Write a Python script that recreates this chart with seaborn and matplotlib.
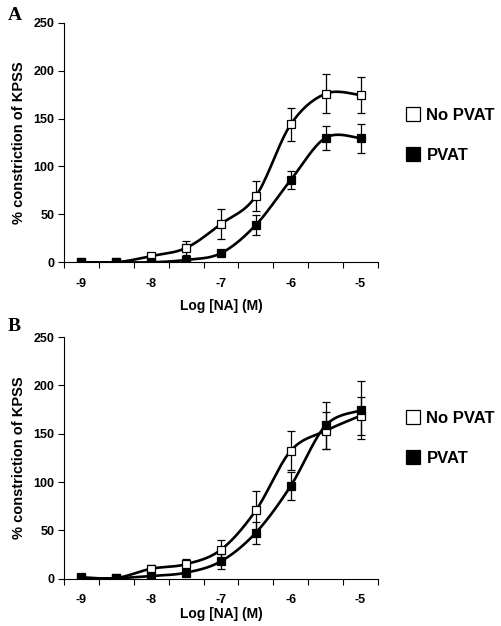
import numpy as np
import pandas as pd
import matplotlib
matplotlib.use("Agg")
import matplotlib.pyplot as plt
import seaborn as sns

# log concentrations of noradrenaline
log_na = [-9, -8.5, -8, -7.5, -7, -6.5, -6, -5.5, -5]

# panel A
a_no_pvat = [0, 0, 6.5, 15, 40, 69, 144, 176, 174.5]
a_no_pvat_err = [0, 0, 2, 7, 15.5, 15.5, 17.5, 20, 18.5]
a_pvat = [0, 0, 0, 2.5, 9.5, 39, 86, 130, 129.5]
a_pvat_err = [0, 0, 0, 3, 2, 10, 9.5, 12.5, 15]

# panel B
b_no_pvat = [1.4, 0.7, 10.3, 15, 30, 70.7, 132.4, 153, 168.6]
b_no_pvat_err = [0, 0, 4, 5, 9.5, 20, 20, 19, 19.5]
b_pvat = [0.5, 0.5, 2.8, 6.2, 18, 47.6, 96, 158.6, 174]
b_pvat_err = [0, 0, 0, 2, 7.5, 11.5, 14.5, 24, 30]

x_labels = ["-9", "-8", "-7", "-6", "-5"]


def smooth(x, y, n=30):
    """bezier smoothing like the excel 'smoothed line' option"""
    p = np.column_stack([x, y]).astype(float)
    pts = [p[0]]
    for i in range(len(p) - 1):
        p0 = p[i - 1] if i > 0 else p[i]
        p3 = p[i + 2] if i + 2 < len(p) else p[i + 1]
        c1 = p[i] + (p[i + 1] - p0) / 6
        c2 = p[i + 1] - (p3 - p[i]) / 6
        t = np.linspace(0, 1, n)[1:, None]
        seg = ((1 - t) ** 3) * p[i] + 3 * ((1 - t) ** 2) * t * c1 + 3 * (1 - t) * t ** 2 * c2 + t ** 3 * p[i + 1]
        pts.extend(seg)
    pts = np.array(pts)
    return pts[:, 0], pts[:, 1]


def draw_panel(ax, no_pvat, no_err, pvat, pvat_err, letter, leg_y, xpad, letter_y):
    for vals in [pvat, no_pvat]:
        sx, sy = smooth(log_na, vals)
        curve = pd.DataFrame({"x": sx, "y": sy})
        sns.lineplot(data=curve, x="x", y="y", ax=ax, color="black", lw=1.9, sort=False, zorder=2)
    for vals, errs in [(pvat, pvat_err), (no_pvat, no_err)]:
        ax.errorbar(log_na, vals, yerr=errs, fmt="none", ecolor="black", elinewidth=0.9,
                    capsize=3, capthick=0.9, zorder=3)
    # markers (legend order: No PVAT first)
    ax.plot(log_na, no_pvat, ls="none", marker="s", ms=6, mfc="white", mec="black", mew=0.9,
            zorder=4, label="No PVAT")
    ax.plot(log_na, pvat, ls="none", marker="s", ms=6, mfc="black", mec="black", mew=0.9,
            zorder=4, label="PVAT")

    ax.set_xlim(-9.25, -4.75)
    ax.set_ylim(0, 250)
    ax.set_yticks(np.arange(0, 251, 50))
    ax.set_xticks([-9, -8, -7, -6, -5])
    ax.set_xticklabels(x_labels)
    ax.set_xticks(np.arange(-9.25, -4.74, 0.5), minor=True)
    ax.tick_params(axis="x", which="major", length=0, pad=11, colors="black")
    ax.tick_params(axis="x", which="minor", length=4, width=0.8, direction="out", colors="black")
    ax.tick_params(axis="y", length=4, width=0.8, direction="out", pad=3, colors="black")
    for t in ax.get_xticklabels() + ax.get_yticklabels():
        t.set_fontweight("bold")
        t.set_fontsize(9)
    ax.set_xlabel("Log [NA] (M)", fontsize=10, fontweight="bold", labelpad=xpad, color="black")
    ax.set_ylabel("% constriction of KPSS", fontsize=10.5, fontweight="bold", labelpad=5, color="black")
    for s in ["left", "bottom"]:
        ax.spines[s].set_linewidth(0.8)
        ax.spines[s].set_color("black")
    sns.despine(ax=ax)
    leg = ax.legend(loc="center left", bbox_to_anchor=(1.04, leg_y), frameon=False,
                    handlelength=0.9, handletextpad=0.35, labelspacing=1.5, markerscale=1.6,
                    prop={"weight": "bold", "size": 12})
    for t in leg.get_texts():
        t.set_color("black")
    ax.text(-0.18, letter_y, letter, transform=ax.transAxes, fontsize=14, fontweight="bold",
            family="Liberation Serif", va="center", ha="left", color="black")


sns.set_style("ticks")
plt.rcParams["font.family"] = ["Liberation Sans", "DejaVu Sans"]

fig = plt.figure(figsize=(5.02, 6.26), dpi=100)
ax_a = fig.add_axes([0.1275, 0.581, 0.6255, 0.3827])
ax_b = fig.add_axes([0.1275, 0.0756, 0.6255, 0.386])

draw_panel(ax_a, a_no_pvat, a_no_pvat_err, a_pvat, a_pvat_err, "A", 0.53, 7, 1.03)
draw_panel(ax_b, b_no_pvat, b_no_pvat_err, b_pvat, b_pvat_err, "B", 0.58, 1, 1.045)

fig.savefig("out.png", dpi=100)
